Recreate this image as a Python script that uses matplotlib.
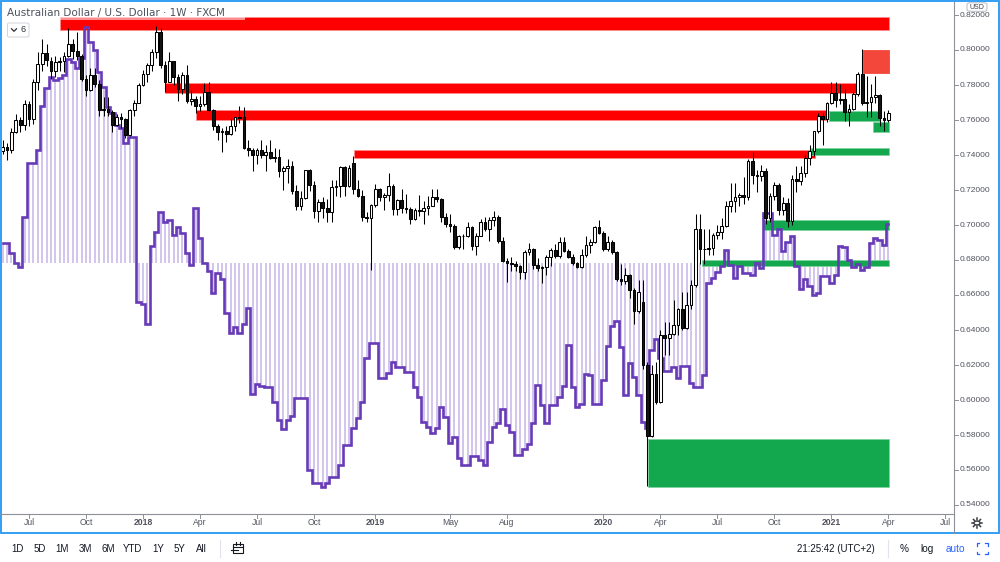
import numpy as np
import pandas as pd
import matplotlib
matplotlib.use("Agg")
import matplotlib.pyplot as plt
from matplotlib.patches import Rectangle, FancyBboxPatch, Circle
from matplotlib.lines import Line2D
from matplotlib.transforms import blended_transform_factory

plt.rcParams['font.family'] = ['Liberation Sans', 'DejaVu Sans']

# ---------------- data (weekly AUD/USD, FXCM) ----------------
first_bar = "2017-05-22"   # Monday of first visible weekly bar

opens = [0.7425, 0.7445, 0.7430, 0.7530, 0.7600, 0.7570,
         0.7690, 0.7605, 0.7815, 0.7920, 0.7985, 0.7940, 0.7880, 0.7930, 0.7935, 0.7965, 0.8035, 0.7995, 0.7965,
         0.7835, 0.7770, 0.7860, 0.7805, 0.7660, 0.7665, 0.7645, 0.7570, 0.7615, 0.7605, 0.7515, 0.7655, 0.7700,
         0.7800, 0.7865, 0.7915, 0.7990, 0.8100, 0.7915, 0.7820, 0.7935, 0.7845, 0.7775, 0.7855, 0.7710, 0.7720,
         0.7680, 0.7690, 0.7760, 0.7655, 0.7565, 0.7530, 0.7535, 0.7520, 0.7565, 0.7615, 0.7615, 0.7440, 0.7430,
         0.7400, 0.7430, 0.7400, 0.7415, 0.7385, 0.7390, 0.7310, 0.7325, 0.7335, 0.7195, 0.7110, 0.7155, 0.7315,
         0.7230, 0.7080, 0.7130, 0.7100, 0.7075, 0.7215, 0.7225, 0.7330, 0.7225, 0.7355, 0.7205, 0.7165, 0.7045,
         0.7040, 0.7115, 0.7205, 0.7160, 0.7170, 0.7225, 0.7090, 0.7145, 0.7100, 0.7090, 0.7035, 0.7085, 0.7080,
         0.7100, 0.7110, 0.7160, 0.7150, 0.7045, 0.7005, 0.6995, 0.6875, 0.6935, 0.6940, 0.6990, 0.6880, 0.6940,
         0.7020, 0.6980, 0.7030, 0.7045, 0.6910, 0.6795, 0.6785, 0.6775, 0.6765, 0.6730, 0.6845, 0.6865, 0.6770,
         0.6755, 0.6760, 0.6815, 0.6855, 0.6820, 0.6905, 0.6850, 0.6815, 0.6785, 0.6760, 0.6830, 0.6885, 0.6905,
         0.6990, 0.6955, 0.6865, 0.6905, 0.6845, 0.6690, 0.6680, 0.6715, 0.6630, 0.6510, 0.6560, 0.6200, 0.5795,
         0.6150, 0.5990, 0.6370, 0.6355, 0.6375, 0.6430, 0.6520, 0.6410, 0.6545, 0.6655, 0.6975, 0.6865, 0.6860,
         0.6870, 0.6945, 0.6960, 0.6995, 0.7110, 0.7140, 0.7160, 0.7170, 0.7160, 0.7365, 0.7285, 0.7280, 0.7310,
         0.7040, 0.7165, 0.7230, 0.7085, 0.7125, 0.7025, 0.7265, 0.7250, 0.7300, 0.7385, 0.7425, 0.7535, 0.7625,
         0.7605, 0.7695, 0.7755, 0.7715, 0.7720, 0.7645, 0.7665, 0.7750, 0.7865, 0.7700, 0.7705, 0.7730, 0.7745,
         0.7610, 0.7600]
highs = [0.7485, 0.7470, 0.7555, 0.7635, 0.7620, 0.7715,
         0.7710, 0.7835, 0.7990, 0.8065, 0.8035, 0.7960, 0.7965, 0.7960, 0.7990, 0.8125, 0.8065, 0.8105, 0.7980,
         0.7855, 0.7895, 0.7900, 0.7830, 0.7730, 0.7730, 0.7655, 0.7635, 0.7640, 0.7610, 0.7665, 0.7715, 0.7810,
         0.7885, 0.7925, 0.8005, 0.8136, 0.8125, 0.7935, 0.7990, 0.7940, 0.7865, 0.7875, 0.7915, 0.7770, 0.7735,
         0.7735, 0.7810, 0.7815, 0.7665, 0.7575, 0.7555, 0.7565, 0.7605, 0.7620, 0.7680, 0.7675, 0.7485, 0.7440,
         0.7440, 0.7485, 0.7455, 0.7485, 0.7440, 0.7435, 0.7335, 0.7380, 0.7365, 0.7230, 0.7195, 0.7315, 0.7320,
         0.7250, 0.7150, 0.7160, 0.7150, 0.7260, 0.7255, 0.7340, 0.7340, 0.7345, 0.7395, 0.7260, 0.7200, 0.7075,
         0.7120, 0.7235, 0.7210, 0.7185, 0.7295, 0.7235, 0.7150, 0.7205, 0.7180, 0.7105, 0.7100, 0.7170, 0.7140,
         0.7165, 0.7205, 0.7205, 0.7155, 0.7070, 0.7065, 0.7005, 0.6945, 0.6950, 0.7020, 0.6995, 0.6955, 0.7035,
         0.7045, 0.7045, 0.7080, 0.7055, 0.6930, 0.6810, 0.6815, 0.6795, 0.6770, 0.6860, 0.6895, 0.6870, 0.6810,
         0.6765, 0.6830, 0.6870, 0.6890, 0.6930, 0.6930, 0.6865, 0.6835, 0.6790, 0.6865, 0.6940, 0.6920, 0.6995,
         0.7030, 0.6965, 0.6935, 0.6915, 0.6850, 0.6775, 0.6755, 0.6720, 0.6640, 0.6685, 0.6685, 0.6215, 0.6200,
         0.6215, 0.6400, 0.6445, 0.6445, 0.6570, 0.6525, 0.6615, 0.6615, 0.6685, 0.7065, 0.7065, 0.6975, 0.6975,
         0.6955, 0.7000, 0.7040, 0.7140, 0.7240, 0.7240, 0.7185, 0.7275, 0.7380, 0.7415, 0.7315, 0.7345, 0.7325,
         0.7185, 0.7245, 0.7240, 0.7160, 0.7155, 0.7285, 0.7340, 0.7340, 0.7400, 0.7460, 0.7540, 0.7640, 0.7640,
         0.7705, 0.7820, 0.7820, 0.7805, 0.7780, 0.7690, 0.7760, 0.7875, 0.8007, 0.7850, 0.7805, 0.7850, 0.7750,
         0.7650, 0.7655]
lows = [0.7405, 0.7370, 0.7410, 0.7525, 0.7530, 0.7545,
        0.7565, 0.7580, 0.7770, 0.7880, 0.7910, 0.7835, 0.7845, 0.7880, 0.7875, 0.7960, 0.7950, 0.7945, 0.7825,
        0.7735, 0.7765, 0.7790, 0.7625, 0.7625, 0.7625, 0.7530, 0.7565, 0.7555, 0.7500, 0.7510, 0.7625, 0.7695,
        0.7795, 0.7815, 0.7880, 0.7955, 0.7895, 0.7760, 0.7815, 0.7800, 0.7710, 0.7750, 0.7700, 0.7685, 0.7640,
        0.7650, 0.7680, 0.7650, 0.7545, 0.7485, 0.7415, 0.7475, 0.7515, 0.7540, 0.7585, 0.7435, 0.7395, 0.7310,
        0.7350, 0.7385, 0.7310, 0.7380, 0.7360, 0.7275, 0.7200, 0.7240, 0.7180, 0.7085, 0.7085, 0.7150, 0.7195,
        0.7040, 0.7020, 0.7040, 0.7020, 0.7020, 0.7165, 0.7160, 0.7165, 0.7215, 0.7180, 0.7160, 0.7025, 0.7015,
        0.6745, 0.7105, 0.7140, 0.7085, 0.7140, 0.7055, 0.7055, 0.7070, 0.7070, 0.7005, 0.7030, 0.7050, 0.7005,
        0.7055, 0.7110, 0.7130, 0.7015, 0.6990, 0.6960, 0.6865, 0.6865, 0.6865, 0.6930, 0.6860, 0.6830, 0.6935,
        0.6965, 0.6910, 0.6995, 0.6895, 0.6790, 0.6675, 0.6740, 0.6740, 0.6690, 0.6690, 0.6830, 0.6750, 0.6735,
        0.6670, 0.6715, 0.6765, 0.6810, 0.6810, 0.6845, 0.6810, 0.6770, 0.6755, 0.6755, 0.6820, 0.6840, 0.6895,
        0.6950, 0.6850, 0.6850, 0.6835, 0.6680, 0.6660, 0.6665, 0.6585, 0.6435, 0.6500, 0.6175, 0.5506, 0.5790,
        0.5980, 0.5985, 0.6255, 0.6255, 0.6370, 0.6370, 0.6400, 0.6405, 0.6520, 0.6645, 0.6775, 0.6775, 0.6830,
        0.6830, 0.6920, 0.6920, 0.6990, 0.7075, 0.7075, 0.7110, 0.7120, 0.7145, 0.7235, 0.7190, 0.7250, 0.7005,
        0.7020, 0.7145, 0.7060, 0.7055, 0.6990, 0.7000, 0.7190, 0.7230, 0.7275, 0.7345, 0.7395, 0.7525, 0.7460,
        0.7590, 0.7690, 0.7675, 0.7690, 0.7595, 0.7565, 0.7660, 0.7740, 0.7685, 0.7620, 0.7620, 0.7700, 0.7565,
        0.7535, 0.7590]
closes = [0.7445, 0.7430, 0.7530, 0.7600, 0.7570, 0.7690,
          0.7605, 0.7815, 0.7920, 0.7985, 0.7940, 0.7880, 0.7930, 0.7935, 0.7965, 0.8035, 0.7995, 0.7965, 0.7835,
          0.7770, 0.7860, 0.7805, 0.7660, 0.7665, 0.7645, 0.7570, 0.7615, 0.7605, 0.7515, 0.7655, 0.7700, 0.7800,
          0.7865, 0.7915, 0.7990, 0.8100, 0.7915, 0.7820, 0.7935, 0.7845, 0.7775, 0.7855, 0.7710, 0.7720, 0.7680,
          0.7690, 0.7760, 0.7655, 0.7565, 0.7530, 0.7535, 0.7520, 0.7565, 0.7615, 0.7610, 0.7440, 0.7430, 0.7400,
          0.7430, 0.7400, 0.7415, 0.7385, 0.7390, 0.7310, 0.7325, 0.7335, 0.7195, 0.7110, 0.7155, 0.7315, 0.7230,
          0.7080, 0.7130, 0.7100, 0.7075, 0.7215, 0.7225, 0.7330, 0.7225, 0.7325, 0.7205, 0.7165, 0.7045, 0.7040,
          0.7115, 0.7205, 0.7160, 0.7170, 0.7225, 0.7090, 0.7145, 0.7100, 0.7090, 0.7035, 0.7085, 0.7080, 0.7100,
          0.7110, 0.7160, 0.7150, 0.7045, 0.7005, 0.6995, 0.6875, 0.6935, 0.6940, 0.6990, 0.6880, 0.6940, 0.7020,
          0.6980, 0.7030, 0.7045, 0.6910, 0.6795, 0.6785, 0.6775, 0.6765, 0.6730, 0.6845, 0.6865, 0.6770, 0.6755,
          0.6760, 0.6815, 0.6855, 0.6820, 0.6905, 0.6850, 0.6815, 0.6785, 0.6760, 0.6830, 0.6885, 0.6905, 0.6990,
          0.6955, 0.6865, 0.6905, 0.6845, 0.6690, 0.6680, 0.6715, 0.6630, 0.6510, 0.6615, 0.6200, 0.5795, 0.6150,
          0.5990, 0.6370, 0.6355, 0.6375, 0.6430, 0.6520, 0.6410, 0.6545, 0.6655, 0.6975, 0.6865, 0.6860, 0.6870,
          0.6945, 0.6960, 0.6995, 0.7110, 0.7140, 0.7160, 0.7170, 0.7160, 0.7365, 0.7285, 0.7280, 0.7310, 0.7040,
          0.7165, 0.7230, 0.7085, 0.7125, 0.7025, 0.7265, 0.7250, 0.7300, 0.7385, 0.7425, 0.7535, 0.7625, 0.7605,
          0.7695, 0.7755, 0.7715, 0.7720, 0.7645, 0.7665, 0.7750, 0.7865, 0.7700, 0.7705, 0.7730, 0.7745, 0.7610,
          0.7600, 0.7640]

# overlay indicator (step line + column fill), drawn on the price scale
indicator = [0.6899, 0.6899, 0.6838, 0.6785, 0.6758, 0.7048,
             0.7353, 0.7353, 0.7429, 0.7680, 0.7781, 0.7847, 0.7829, 0.7838, 0.7857, 0.7947, 0.7933, 0.7895, 0.7953,
             0.8133, 0.8047, 0.8000, 0.7876, 0.7787, 0.7676, 0.7638, 0.7571, 0.7553, 0.7467, 0.7505, 0.7505, 0.6562,
             0.6549, 0.6434, 0.6880, 0.6962, 0.7076, 0.7019, 0.7029, 0.6943, 0.6990, 0.6953, 0.6842, 0.6771, 0.7099,
             0.6924, 0.6785, 0.6739, 0.6610, 0.6724, 0.6690, 0.6495, 0.6381, 0.6419, 0.6381, 0.6434, 0.6524, 0.6033,
             0.6091, 0.6080, 0.6076, 0.6076, 0.5990, 0.5886, 0.5833, 0.5886, 0.5909, 0.6010, 0.6013, 0.6013, 0.5600,
             0.5527, 0.5527, 0.5505, 0.5527, 0.5558, 0.5558, 0.5629, 0.5743, 0.5743, 0.5838, 0.5895, 0.5987, 0.6240,
             0.6324, 0.6324, 0.6124, 0.6124, 0.6156, 0.6219, 0.6187, 0.6187, 0.6162, 0.6162, 0.6073, 0.6019, 0.5876,
             0.5847, 0.5813, 0.5838, 0.5962, 0.5905, 0.5756, 0.5787, 0.5667, 0.5629, 0.5629, 0.5680, 0.5680, 0.5657,
             0.5629, 0.5762, 0.5844, 0.5870, 0.5947, 0.5857, 0.5819, 0.5686, 0.5686, 0.5718, 0.5749, 0.5867, 0.6086,
             0.5971, 0.5870, 0.5971, 0.5971, 0.6015, 0.6080, 0.6314, 0.6076, 0.5962, 0.5977, 0.6149, 0.6143, 0.5977,
             0.5977, 0.6114, 0.6309, 0.6423, 0.6449, 0.6305, 0.6029, 0.6213, 0.6133, 0.6029, 0.5876, 0.5838, 0.6286,
             0.6347, 0.6238, 0.6167, 0.6167, 0.6190, 0.6124, 0.6194, 0.6194, 0.6095, 0.6076, 0.6076, 0.6143, 0.6671,
             0.6695, 0.6733, 0.6766, 0.6857, 0.6771, 0.6695, 0.6766, 0.6727, 0.6727, 0.6714, 0.6781, 0.6753, 0.7070,
             0.7070, 0.6943, 0.6975, 0.6853, 0.6905, 0.6937, 0.6766, 0.6633, 0.6690, 0.6651, 0.6600, 0.6610, 0.6709,
             0.6709, 0.6670, 0.6714, 0.6880, 0.6873, 0.6800, 0.6758, 0.6777, 0.6743, 0.6758, 0.6895, 0.6924, 0.6914,
             0.6886, 0.7006]
indicator_base = 0.6785

# zones drawn on the chart: start / end in weeks from first bar, price range
zone_start = [13.0, 37.0, 44.1, 80.2, 196.3, 188.5, 198.4, 184.3, 173.3, 159.4, 147.2]
zone_end   = [202.2, 194.8, 187.9, 185.25, 202.2, 200.1, 202.2, 202.2, 202.2, 202.2, 202.2]
zone_low   = [0.8114, 0.7756, 0.7600, 0.7381, 0.7867, 0.7596, 0.7530, 0.7400, 0.6971, 0.6766, 0.5501]
zone_high  = [0.8190, 0.7813, 0.7660, 0.7429, 0.8000, 0.7651, 0.7590, 0.7438, 0.7029, 0.6800, 0.5775]
zone_kind  = ['supply', 'supply', 'supply', 'supply', 'supply2',
              'demand', 'demand', 'demand', 'demand', 'demand', 'demand']

price_ticks = [0.54, 0.56, 0.58, 0.60, 0.62, 0.64, 0.66, 0.68, 0.70, 0.72, 0.74, 0.76, 0.78, 0.80, 0.82]
tick_dates = ["2017-07-03", "2017-10-02", "2018-01-01", "2018-04-02", "2018-07-02", "2018-10-01",
              "2019-01-07", "2019-05-06", "2019-08-05", "2020-01-06", "2020-04-06", "2020-07-06",
              "2020-10-05", "2021-01-04", "2021-04-05", "2021-07-05"]
tick_labels = ["Jul", "Oct", "2018", "Apr", "Jul", "Oct", "2019", "May", "Aug", "2020", "Apr", "Jul",
               "Oct", "2021", "Apr", "Jul"]

# ---------------- figure ----------------
W, H = 1000.0, 562.0
fig = plt.figure(figsize=(W / 100, H / 100), dpi=100)
fig.patch.set_facecolor('white')


def fx(px):
    return px / W


def fy(py):
    return 1.0 - py / H


x_lo_px, x_hi_px, y_top_px, y_bot_px = 2.0, 953.0, 2.0, 513.0
px_per_bar = 4.385
idx0_px = 29.0 - 6 * px_per_bar
ax = fig.add_axes([fx(x_lo_px), fy(y_bot_px), fx(x_hi_px) - fx(x_lo_px), fy(y_top_px) - fy(y_bot_px)])
ax.set_xlim((x_lo_px - idx0_px) / px_per_bar, (x_hi_px - idx0_px) / px_per_bar)
ax.set_ylim(0.80 - (y_bot_px - 50) / 1750.0, 0.80 + (50 - y_top_px) / 1750.0)
ax.axis('off')

o = np.array(opens); h = np.array(highs); l = np.array(lows); c = np.array(closes)
ind = np.array(indicator)
xi = np.arange(len(c))

# indicator column fill
ax.vlines(xi, indicator_base, ind, color='#d2c5ec', lw=1.4, zorder=2)

# zones
zone_face = {'supply': '#ff0000', 'supply2': '#f4473b', 'demand': '#13a84e'}
zone_edge = {'supply': '#ff8a8a', 'supply2': '#f4473b', 'demand': '#7fd3a0'}
for s, e, lo, hi, k in zip(zone_start, zone_end, zone_low, zone_high, zone_kind):
    ax.add_patch(Rectangle((s, lo), e - s, hi - lo, facecolor=zone_face[k],
                           edgecolor=zone_edge[k], lw=0.6, zorder=3))

# indicator step line
ax.step(xi, ind, where='mid', color='#673ab7', lw=1.9, zorder=4, solid_joinstyle='miter')

# candles
up = c >= o
ax.vlines(xi, l, h, color='#000000', lw=0.75, zorder=5)
body_lo = np.minimum(o, c)
body_h = np.maximum(np.abs(c - o), 0.0003)
ax.bar(xi[up], body_h[up], bottom=body_lo[up], width=0.62, color='white',
       edgecolor='#000000', lw=0.75, zorder=6)
ax.bar(xi[~up], body_h[~up], bottom=body_lo[~up], width=0.62, color='#141414',
       edgecolor='#000000', lw=0.75, zorder=6)

# ---------------- chrome ----------------
axis_col = '#8e9099'
fig.add_artist(Line2D([fx(0), fx(953.5)], [fy(513.5), fy(513.5)], color=axis_col, lw=0.8))
fig.add_artist(Line2D([fx(953.5), fx(953.5)], [fy(2), fy(533)], color=axis_col, lw=0.8))

# price labels
tr_p = blended_transform_factory(fig.transFigure, ax.transData)
for p in price_ticks:
    ax.add_line(Line2D([fx(954), fx(957.5)], [p, p], transform=tr_p, color=axis_col, lw=0.7, clip_on=False))
    ax.text(fx(960), p, f"{p:.5f}", transform=tr_p, ha='left', va='center',
            fontsize=6.0, color='#50535e', clip_on=False)

# USD badge (sits above the partly hidden top label)
fig.add_artist(FancyBboxPatch((fx(967), fy(11.3)), fx(20), 8.5 / H,
                              boxstyle="round,pad=0,rounding_size=0.003",
                              facecolor='white', edgecolor='#b8bbc4', lw=0.7, transform=fig.transFigure))
fig.text(fx(977), fy(7.1), "USD", ha='center', va='center', fontsize=5.0, color='#3a3d45')

# time labels
tr_t = blended_transform_factory(ax.transData, fig.transFigure)
base_date = pd.Timestamp(first_bar)
for d, lab in zip(tick_dates, tick_labels):
    ti = (pd.Timestamp(d) - base_date).days / 7.0
    ax.add_line(Line2D([ti, ti], [fy(514), fy(517.5)], transform=tr_t, color=axis_col, lw=0.7, clip_on=False))
    ax.text(ti, fy(522.8), lab, transform=tr_t, ha='center', va='center', fontsize=6.2,
            color='#50535e', fontweight='bold' if lab.isdigit() else 'normal', clip_on=False)

# gear icon at bottom right of axes corner
gx, gy = 977, 523
fig.add_artist(Circle((fx(gx), fy(gy)), 3.2 / W, transform=fig.transFigure, facecolor='white',
                      edgecolor='#3a3d45', lw=0.9))
for ang in np.arange(0, 360, 45):
    a = np.deg2rad(ang)
    fig.add_artist(Line2D([fx(gx + 3.2 * np.cos(a)), fx(gx + 5.0 * np.cos(a))],
                          [fy(gy + 3.2 * np.sin(a)), fy(gy + 5.0 * np.sin(a))], color='#3a3d45', lw=1.1))

# blue frame around chart pane
fig.add_artist(Rectangle((fx(1), fy(532.5)), fx(997.5), (531.5) / H, transform=fig.transFigure,
                         facecolor='none', edgecolor='#2196f3', lw=1.3))

# title with translucent background
fig.add_artist(Rectangle((fx(2), fy(20)), fx(243), 18 / H, transform=fig.transFigure,
                         facecolor='white', alpha=0.55, edgecolor='none'))
fig.text(fx(7), fy(12.8), "Australian Dollar / U.S. Dollar · 1W · FXCM", ha='left', va='center',
         fontsize=7.45, color='#4c525e', family=['DejaVu Sans'])

# collapsed indicator legend box
fig.add_artist(FancyBboxPatch((fx(7.5), fy(37)), fx(21.5), 14 / H,
                              boxstyle="round,pad=0,rounding_size=0.002",
                              facecolor='white', edgecolor='#d1d4dc', lw=0.7, transform=fig.transFigure))
fig.add_artist(Line2D([fx(11.5), fx(14), fx(16.5)], [fy(28.8), fy(31.3), fy(28.8)], color='#2a2e39', lw=0.9))
fig.text(fx(23.5), fy(30), "6", ha='center', va='center', fontsize=6.5, color='#2a2e39')

# bottom toolbar
for lab, xp in zip(["1D", "5D", "1M", "3M", "6M", "YTD", "1Y", "5Y", "All"],
                   [17, 39.5, 62, 85, 108, 133, 158, 179.5, 201]):
    fig.text(fx(xp), fy(548.5), lab, ha='center', va='center', fontsize=7.0, color='#131722')
fig.add_artist(Line2D([fx(220), fx(220)], [fy(540), fy(557)], color='#e0e3eb', lw=0.8))
# calendar/goto icon
fig.add_artist(Rectangle((fx(233), fy(553)), fx(10), 9 / H, transform=fig.transFigure,
                         facecolor='none', edgecolor='#131722', lw=0.8))
fig.add_artist(Line2D([fx(233), fx(243)], [fy(546.5), fy(546.5)], color='#131722', lw=0.8))
fig.add_artist(Line2D([fx(236), fx(236)], [fy(542), fy(545)], color='#131722', lw=0.8))
fig.add_artist(Line2D([fx(240), fx(240)], [fy(542), fy(545)], color='#131722', lw=0.8))
fig.add_artist(Line2D([fx(231), fx(238)], [fy(550), fy(550)], color='#131722', lw=0.8))

fig.text(fx(836), fy(548.5), "21:25:42 (UTC+2)", ha='center', va='center', fontsize=7.0, color='#131722')
fig.add_artist(Line2D([fx(887.5), fx(887.5)], [fy(540), fy(557)], color='#e0e3eb', lw=0.8))
fig.text(fx(904.5), fy(548.5), "%", ha='center', va='center', fontsize=7.2, color='#131722')
fig.text(fx(927), fy(548.5), "log", ha='center', va='center', fontsize=7.2, color='#131722')
fig.text(fx(955), fy(548.5), "auto", ha='center', va='center', fontsize=7.2, color='#2962ff')
# fullscreen corners
fcx, fcy, s, k = 982, 548.5, 5.5, 2.5
for sx in (-1, 1):
    for sy in (-1, 1):
        xc, yc = fcx + sx * s, fcy + sy * s
        fig.add_artist(Line2D([fx(xc - sx * k), fx(xc), fx(xc)], [fy(yc), fy(yc), fy(yc - sy * k)],
                              color='#2962ff', lw=0.9))

fig.savefig("out.png", dpi=100, facecolor='white')
